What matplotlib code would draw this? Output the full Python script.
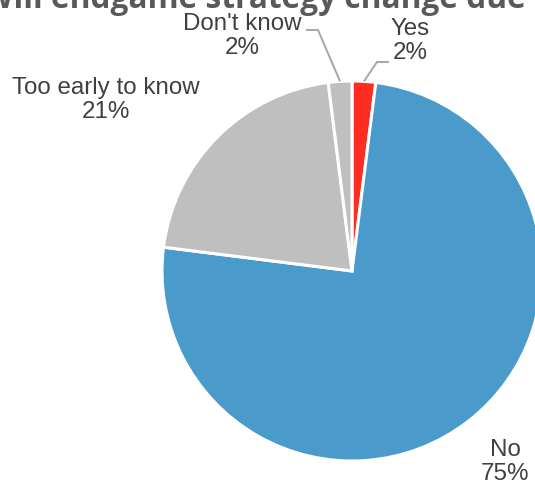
import matplotlib
matplotlib.use('Agg')
import matplotlib.pyplot as plt
import numpy as np

W, H = 535, 486

labels = ['Yes', 'No', 'Too early to know', "Don't know"]
values = [2, 75, 21, 2]
colors = ['#FF2D21', '#4A9BCB', '#BFBFBF', '#BFBFBF']
title = 'Will endgame strategy change due to COVID-19?'

# label placement in image pixels (x, y from top)
label_pos = [(410, 41), (505, 462), (106, 100), (242, 36)]
# leader elbows (only for the two thin slices)
elbows = {0: [(389, 62), (377, 62)], 3: [(306, 30), (318, 30)]}

center_img = (352, 271)
radius = 190


def img(x, y):
    return x, H - y


fig = plt.figure(figsize=(W / 100, H / 100), dpi=100)
ax = fig.add_axes([0, 0, 1, 1])
ax.axis('off')

cx, cy = img(*center_img)
wedges, _ = ax.pie(values, colors=colors, startangle=90, counterclock=False,
                   center=(cx, cy), radius=radius,
                   wedgeprops=dict(edgecolor='white', linewidth=2.2))
ax.set_xlim(0, W)
ax.set_ylim(0, H)
ax.set_aspect('equal')

for i, (lab, val, w) in enumerate(zip(labels, values, wedges)):
    x, y = img(*label_pos[i])
    ax.text(x, y, f'{lab}\n{val}%', ha='center', va='center',
            fontsize=17.4, color='#404040', family='Liberation Sans',
            linespacing=1.12)
    if i in elbows:
        mid = np.deg2rad((w.theta1 + w.theta2) / 2)
        px, py = cx + radius * np.cos(mid), cy + radius * np.sin(mid)
        pts = [img(*p) for p in elbows[i]] + [(px, py)]
        xs, ys = zip(*pts)
        ax.plot(xs, ys, color='#A6A6A6', lw=1.4, solid_capstyle='butt')

fig.text(-17 / W, (H - 8) / H, title, ha='left', va='baseline',
         fontsize=22.8, fontweight='bold', color='#595959', family='Open Sans')

fig.savefig('out.png', dpi=100)
